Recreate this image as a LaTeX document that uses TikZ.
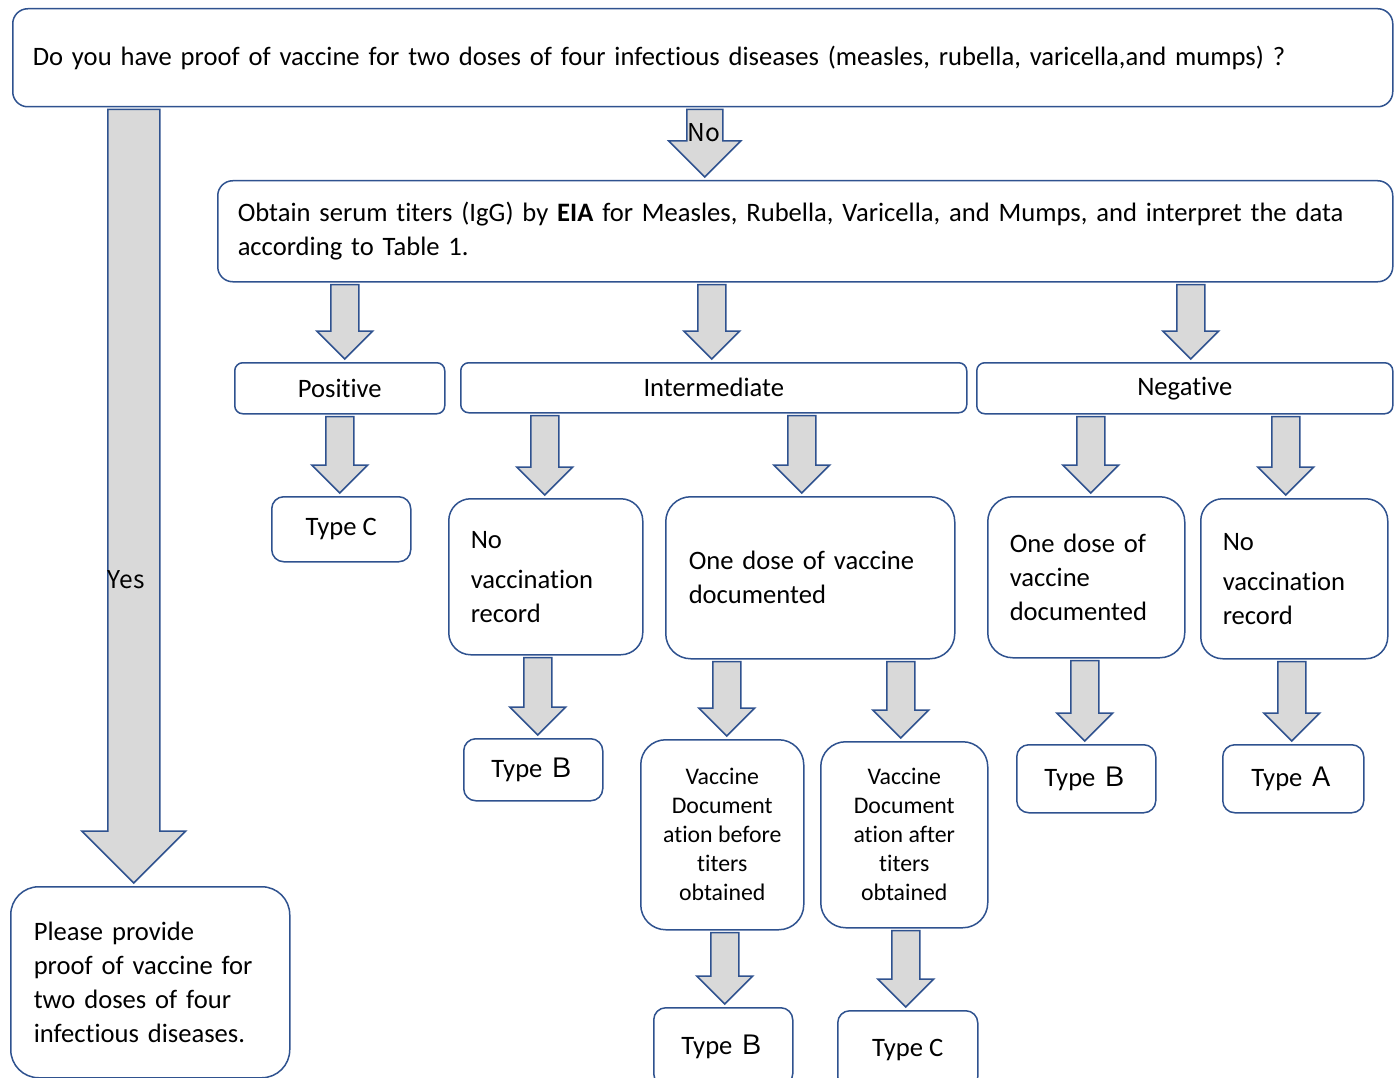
\documentclass[tikz,border=0pt]{standalone}
\usepackage{fontspec}
\setmainfont{Carlito}[Ligatures=NoCommon, Contextuals=NoAlternate]
\newfontfamily\cjk{Noto Sans CJK JP}
\usetikzlibrary{calc}
\definecolor{boxblue}{HTML}{2F528F}
\definecolor{arrowgray}{HTML}{D9D9D9}
% fat block arrow: #1 shaft half-width, #2 from, #3 to, #4 x shift
\newcommand{\fatarrow}[4][14]{%
	\draw[fat] ($(#3.north |- #2.south)+(#4-#1,2)$) -- ($(#3.north)+(#4-#1,-3-2*#1)$)
	-- ($(#3.north)+(#4-2*#1,-3-2*#1)$) -- ($(#3.north)+(#4,-3)$)
	-- ($(#3.north)+(#4+2*#1,-3-2*#1)$) -- ($(#3.north)+(#4+#1,-3-2*#1)$)
	-- ($(#3.north |- #2.south)+(#4+#1,2)$) -- cycle;}
\begin{document}
\begin{tikzpicture}[x=1pt, y=-1pt, line join=round,
	box/.style={draw=boxblue, line width=1.5pt, rounded corners=#1, fill=white, anchor=north west,
		inner sep=0pt, font=\fontsize{26.6}{34}\selectfont},
	box/.default=12pt,
	fat/.style={draw=boxblue, line width=1.5pt, fill=arrowgray, line join=miter},
	lbl/.style={font=\cjk\fontsize{24.5}{26}\selectfont, inner sep=0pt}]
	\useasboundingbox (0,0) rectangle (1399,1078);
	% question and titers
	\node[box=15pt, minimum width=1380pt, minimum height=98pt, text width=1340pt, align=left] (q) at (12,8)
	{Do you have proof of vaccine for two doses of four infectious diseases (measles, rubella, varicella,and mumps) ?};
	\node[box=15pt, minimum width=1175pt, minimum height=101pt, text width=1135pt, align=left] (serum) at (217,180)
	{Obtain serum titers (IgG) by \textbf{EIA} for Measles, Rubella, Varicella, and Mumps, and interpret the data\\ according to Table 1.};
	\node[box=28pt, minimum width=279pt, minimum height=191pt, text width=233pt, align=left] (please) at (10,886)
	{Please provide\\ proof of vaccine for\\ two doses of four\\ infectious diseases.};
	% results
	\node[box=8pt, minimum width=210pt, minimum height=51pt] (pos) at (234,362) {Positive};
	\node[box=8pt, minimum width=506pt, minimum height=50pt] (inter) at (460,362) {Intermediate};
	\node[box=8pt, minimum width=416pt, minimum height=51pt] (neg) at (976,362) {Negative};
	% records
	\node[box=22pt, minimum width=194pt, minimum height=156pt, text width=150pt, align=left] (novac) at (448,498)
	{No\\[6pt] vaccination\\ record};
	\node[box=25pt, minimum width=289pt, minimum height=162pt, text width=243pt, align=left] (onedose) at (665,496)
	{One dose of vaccine\\ documented};
	\node[box=25pt, minimum width=197pt, minimum height=161pt, text width=153pt, align=left] (onedoseb) at (987,496)
	{One dose of\\ vaccine\\ documented};
	\node[box=22pt, minimum width=187pt, minimum height=160pt, text width=143pt, align=left] (novacb) at (1200,498)
	{No\\[6pt] vaccination\\ record};
	\node[box=25pt, minimum width=163pt, minimum height=190pt, align=center, font=\fontsize{23.8}{29}\selectfont] (before) at (640,739)
	{Vaccine\\ Document\\ ation before\\ titers\\ obtained};
	\node[box=25pt, minimum width=167pt, minimum height=186pt, align=center, font=\fontsize{23.8}{29}\selectfont] (after) at (820,741)
	{Vaccine\\ Document\\ ation after\\ titers\\ obtained};
	% types
	\node[box, minimum width=139pt, minimum height=65pt] (typec) at (271,496) {Type C};
	\node[box, minimum width=139pt, minimum height=62pt] (typeb) at (463,738) {Type {\cjk Ｂ}};
	\node[box, minimum width=139pt, minimum height=68pt] (typebb) at (1016,744) {Type {\cjk Ｂ}};
	\node[box, minimum width=141pt, minimum height=68pt] (typea) at (1222,744) {Type {\cjk Ａ}};
	\node[box, minimum width=139pt, minimum height=78pt] (typebc) at (653,1007) {Type {\cjk Ｂ}};
	\node[box, minimum width=140pt, minimum height=78pt] (typecb) at (837,1010) {Type C};
	% arrows
	\fatarrow[26]{q}{please}{-16.5}
	\fatarrow[18]{q}{serum}{-100.5}
	\fatarrow{serum}{pos}{5}
	\fatarrow{serum}{inter}{-2}
	\fatarrow{serum}{neg}{6}
	\fatarrow{pos}{typec}{-1.5}
	\fatarrow{inter}{novac}{-1}
	\fatarrow{inter}{onedose}{-8.5}
	\fatarrow{neg}{onedoseb}{4.5}
	\fatarrow{neg}{novacb}{-8.5}
	\fatarrow{novac}{typeb}{4.5}
	\fatarrow{onedose}{before}{4.5}
	\fatarrow{onedose}{after}{-3.5}
	\fatarrow{before}{typebc}{1.5}
	\fatarrow{after}{typecb}{-2}
	\fatarrow{onedoseb}{typebb}{-1.5}
	\fatarrow{novacb}{typea}{-1.5}
	\node[lbl] (yes) at (126,580) {Yes};
	\node[lbl] (no) at (704,133) {No};
\end{tikzpicture}
\end{document}
